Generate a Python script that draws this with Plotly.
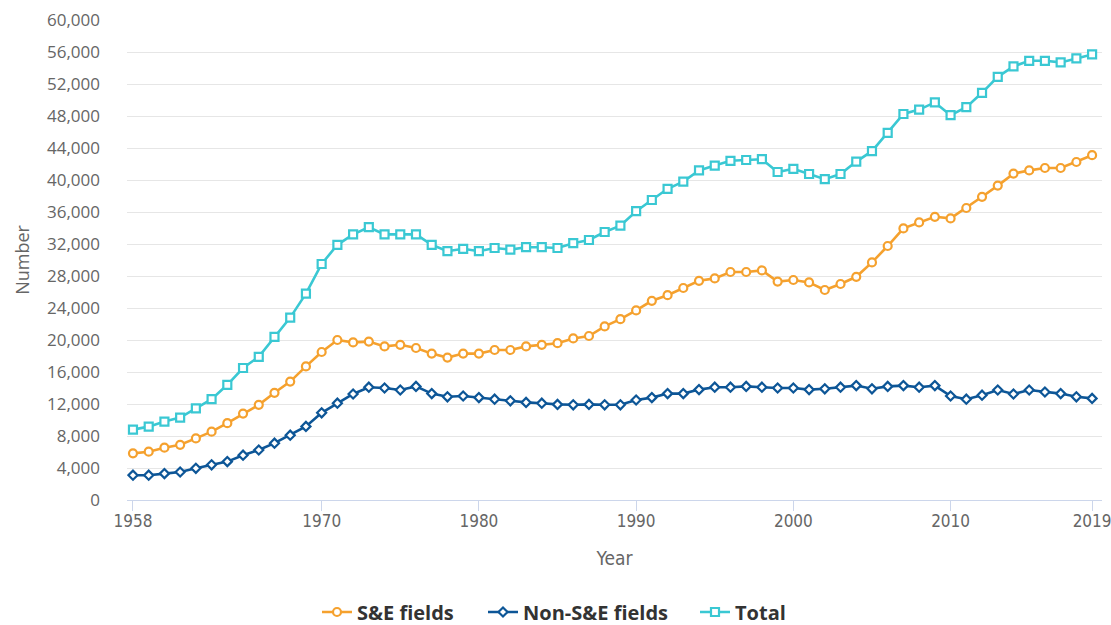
import plotly.graph_objects as go

years = list(range(1958, 2020))

se_fields = [5830, 6040, 6540, 6900, 7700, 8540, 9600, 10800, 11900, 13400, 14800, 16700,
             18500, 20000, 19700, 19800, 19200, 19400, 19000, 18300, 17800, 18300, 18300, 18750,
             18750, 19200, 19400, 19600, 20200, 20500, 21700, 22600, 23700, 24900, 25600, 26500,
             27400, 27700, 28500, 28500, 28700, 27300, 27500, 27200, 26250, 27000, 27900, 29700,
             31750, 33950, 34700, 35400, 35200, 36500, 37900, 39300, 40800, 41200, 41500, 41500,
             42250, 43100]

non_se_fields = [3100, 3100, 3300, 3500, 3960, 4400, 4800, 5600, 6250, 7100, 8100, 9200,
                 10900, 12100, 13250, 14100, 14000, 13750, 14200, 13300, 12900, 13000, 12800, 12600,
                 12400, 12200, 12100, 11950, 11900, 11950, 11900, 11900, 12500, 12800, 13300, 13300,
                 13800, 14100, 14100, 14200, 14100, 14000, 14000, 13800, 13900, 14100, 14300, 13900,
                 14200, 14300, 14100, 14300, 13000, 12600, 13100, 13750, 13250, 13750, 13500, 13300,
                 12900, 12700]

total = [8800, 9170, 9800, 10300, 11460, 12600, 14400, 16500, 17900, 20400, 22800, 25800,
         29500, 31900, 33200, 34100, 33200, 33200, 33200, 31900, 31100, 31400, 31100, 31500,
         31300, 31600, 31600, 31500, 32100, 32500, 33500, 34300, 36100, 37500, 38900, 39800,
         41200, 41800, 42400, 42500, 42600, 41000, 41400, 40750, 40100, 40750, 42300, 43600,
         45900, 48250, 48800, 49700, 48100, 49100, 50900, 52900, 54200, 54900, 54900, 54700,
         55200, 55700]

x_tickvals = [1958, 1970, 1980, 1990, 2000, 2010, 2019]
y_tickvals = list(range(0, 60001, 4000))

ORANGE = "#F5A12E"
NAVY = "#0D5697"
CYAN = "#3AC8D3"
FONT = "Open Sans, Noto Sans, sans-serif"
NARROW = "DejaVu Sans Condensed, Liberation Sans Narrow, Open Sans, sans-serif"

fig = go.Figure()
fig.add_trace(go.Scatter(
    x=years, y=se_fields, name="S&E fields", mode="lines+markers", legend="legend",
    line=dict(color=ORANGE, width=2.6),
    marker=dict(symbol="circle", size=8, color="white", line=dict(color=ORANGE, width=2.2)),
))
fig.add_trace(go.Scatter(
    x=years, y=non_se_fields, name="Non-S&E fields", mode="lines+markers", legend="legend2",
    line=dict(color=NAVY, width=2.6),
    marker=dict(symbol="diamond", size=7, color="white", line=dict(color=NAVY, width=2.2)),
))
fig.add_trace(go.Scatter(
    x=years, y=total, name="Total", mode="lines+markers", legend="legend3",
    line=dict(color=CYAN, width=2.6),
    marker=dict(symbol="square", size=8, color="white", line=dict(color=CYAN, width=2.2)),
))

W, H = 1111, 625


def legend_at(px_left):
    return dict(
        orientation="h", xref="container", yref="container",
        x=px_left / W, xanchor="left", y=1 - 612 / H, yanchor="middle",
        font=dict(family=FONT, size=20, color="#333333", weight="bold"),
        itemwidth=30, bgcolor="rgba(0,0,0,0)",
    )


fig.update_layout(
    width=W, height=H,
    margin=dict(l=127, r=9, t=20, b=125),
    plot_bgcolor="white", paper_bgcolor="white",
    font=dict(family=FONT, color="#666666", size=17),
    showlegend=True,
    legend=legend_at(317),
    legend2=legend_at(483),
    legend3=legend_at(695),
)

fig.update_xaxes(
    range=[1957.62, 2019.63],
    automargin=False,
    tickmode="array", tickvals=x_tickvals, ticktext=[str(v) for v in x_tickvals],
    showgrid=False, zeroline=False,
    showline=True, linecolor="#ccd6eb", linewidth=1,
    ticks="outside", ticklen=10, tickcolor="#ccd6eb", tickwidth=1,
    ticklabeloverflow="allow", ticklabelstandoff=-4,
    tickfont=dict(family=NARROW, size=17, color="#666666"),
    title=dict(text="Year", font=dict(family=NARROW, size=19, color="#666666"), standoff=21),
)

fig.update_yaxes(
    range=[0, 60000],
    tickmode="array", tickvals=y_tickvals,
    ticktext=[f"{v:,}" for v in y_tickvals],
    showgrid=True, gridcolor="#e6e6e6", gridwidth=1,
    zeroline=False, showline=False, ticks="",
    ticklabelstandoff=26,
    tickfont=dict(family=FONT, size=17, color="#666666"),
    title=dict(text="Number", font=dict(family=FONT, size=18, color="#666666"), standoff=12),
)

fig.write_html("out.html", config={"displayModeBar": False},
               post_script="document.body.style.margin='0';")
